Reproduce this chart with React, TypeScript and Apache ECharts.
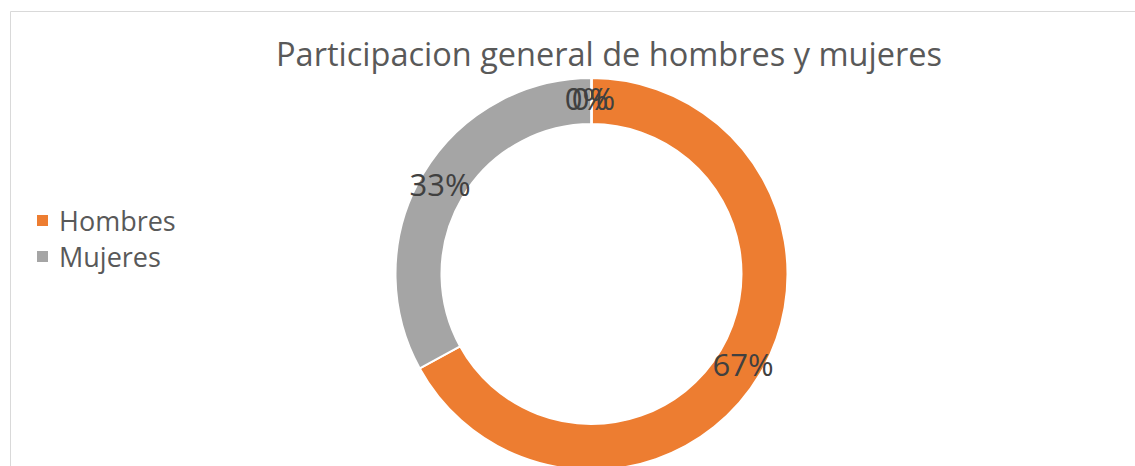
import React, { useEffect, useRef } from "react";
import * as echarts from "echarts";

const categories = ["Hombres", "Mujeres", "Sin dato 1", "Sin dato 2"];
const values = [67, 33, 0, 0];
const legendItems = ["Hombres", "Mujeres"];
const colors = ["#ED7D31", "#A5A5A5", "#4472C4", "#FFC000"];
const titleText = "Participacion general de hombres y mujeres";

export default function App() {
  const ref = useRef<HTMLDivElement>(null);
  useEffect(() => {
    if (!ref.current) return;
    const chart = echarts.init(ref.current, undefined, { renderer: "svg" });
    const font = "'Open Sans', 'Noto Sans', sans-serif";
    const labelPads: number[][] = [
      [0, 0, 0, 0],
      [0, 0, 0, 0],
      [0, 10, 0, 0],
      [0, 0, 0, 4],
    ];
    chart.setOption({
      animation: false,
      backgroundColor: "#ffffff",
      title: {
        text: titleText,
        left: 609,
        top: 37,
        textAlign: "center",
        padding: 0,
        textStyle: {
          fontFamily: font,
          fontSize: 32.5,
          fontWeight: "normal",
          color: "#595959",
        },
      },
      legend: {
        data: legendItems,
        orient: "vertical",
        left: 35,
        top: 207,
        padding: 0,
        itemGap: 9,
        itemWidth: 13,
        itemHeight: 13,
        icon: "rect",
        textStyle: {
          fontFamily: font,
          fontSize: 27,
          lineHeight: 27,
          color: "#595959",
          padding: [0, 0, 0, 5],
        },
      },
      graphic: [
        {
          type: "rect",
          shape: { x: 10.5, y: 11.5, width: 1200, height: 600 },
          style: { fill: "none", stroke: "#d9d9d9", lineWidth: 1 },
          silent: true,
          z: -10,
        },
      ],
      series: [
        {
          type: "pie",
          center: [591.5, 274],
          radius: [150, 196],
          startAngle: 90,
          clockwise: true,
          minShowLabelAngle: 0,
          avoidLabelOverlap: false,
          labelLayout: { hideOverlap: false },
          emphasis: { disabled: true },
          itemStyle: { borderColor: "#ffffff", borderWidth: 2 },
          label: {
            show: true,
            position: "inside",
            fontFamily: font,
            fontSize: 31,
            color: "#404040",
            formatter: (p: any) => Math.round(p.percent) + "%",
          },
          labelLine: { show: false },
          data: categories.map((name, i) => ({
            name,
            value: values[i],
            itemStyle: { color: colors[i] },
            label: { padding: labelPads[i] },
          })),
        },
      ],
    });
    return () => chart.dispose();
  }, []);
  return (
    <div
      ref={ref}
      style={{ position: "absolute", left: 0, top: 0, width: 1135, height: 466 }}
    />
  );
}
